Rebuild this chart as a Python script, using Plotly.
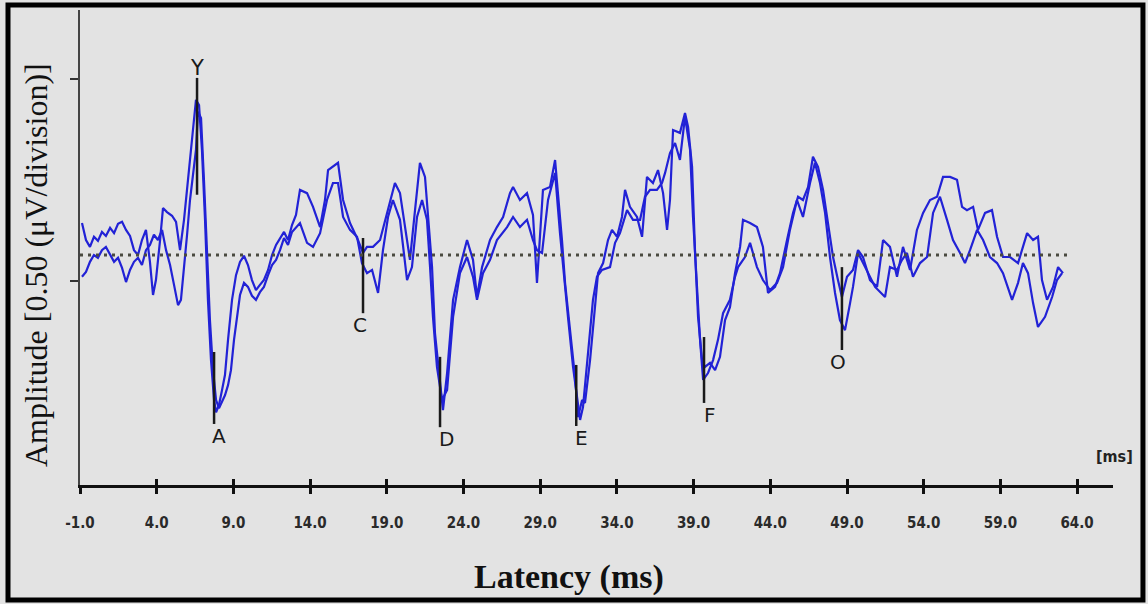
import plotly.graph_objects as go

# ---------------- data (latency in ms, amplitude in microvolts) ----------------
t1_ms = [-0.87, -0.61, -0.35, -0.09, 0.17, 0.43, 0.69, 0.96, 1.22, 1.48, 1.74, 2.00, 2.26, 2.52, 2.78,
         3.04, 3.30, 3.56, 3.76, 3.95, 4.22, 4.41, 4.67, 5.00, 5.26, 5.52, 5.78, 6.04, 6.30, 6.56,
         6.76, 6.95, 7.15, 7.34, 7.54, 7.74, 7.87, 8.06, 8.26, 8.45, 8.65, 8.91, 9.17, 9.43, 9.69,
         9.95, 10.21, 10.47, 10.73, 10.99, 11.26, 11.52, 11.78, 12.04, 12.30, 12.56, 12.82, 13.08,
         13.34, 13.80, 14.19, 14.65, 14.97, 15.17, 15.49, 15.82, 16.15, 16.60, 17.12, 17.45, 17.71,
         18.10, 18.56, 19.01, 19.53, 19.86, 20.32, 20.51, 20.84, 21.16, 21.49, 21.69, 21.95, 22.14,
         22.47, 22.66, 22.93, 23.32, 23.77, 24.23, 24.62, 24.88, 25.21, 25.73, 26.18, 26.58, 27.03,
         27.23, 27.68, 28.14, 28.53, 28.79,
         29.18, 29.64, 29.97, 30.16, 30.42, 30.62, 30.94, 31.27, 31.47, 31.73, 31.92, 32.25, 32.57,
         32.77, 33.10, 33.42, 33.68, 34.01, 34.33, 34.53, 34.85, 35.31, 35.64, 35.96, 36.35, 36.68,
         37.01, 37.27, 37.46, 37.66, 38.11, 38.44, 38.64, 38.90, 39.09, 39.29, 39.55, 39.74, 40.07,
         40.40, 40.72, 41.05, 41.37, 41.70, 42.03, 42.22, 42.68, 43.13, 43.52, 43.85, 44.31, 44.63,
         45.09, 45.48, 45.81, 46.13, 46.46, 46.78, 47.11, 47.44, 47.76, 48.09, 48.41, 48.67, 49.00,
         49.39, 49.72, 50.04, 50.50, 50.96, 51.35, 51.80, 52.26, 52.65, 53.11, 53.56, 53.96, 54.41,
         54.87, 55.26, 55.72, 56.17, 56.50, 56.82, 57.22, 57.54, 58.00, 58.45, 58.78, 59.17, 59.63,
         60.15, 60.74, 61.13, 61.45, 61.71, 62.04, 62.43, 62.76, 63.08]
t1_uv = [0.079, 0.037, 0.020, 0.045, 0.035, 0.057, 0.047, 0.067, 0.054, 0.077, 0.082, 0.062, 0.047, 0.012, 0.000,
         0.037, 0.062, -0.017, -0.099, -0.062, 0.037, 0.116, 0.106, 0.097, 0.082, 0.012, 0.087, 0.186, 0.285, 0.384,
         0.371, 0.260, 0.087, -0.111, -0.260, -0.359, -0.389, -0.371, -0.334, -0.297, -0.210, -0.111, -0.050, -0.017, -0.002,
         -0.025, -0.062, -0.087, -0.074, -0.062, -0.037, 0.000, 0.025, 0.042, 0.057, 0.037, 0.074, 0.099,
         0.161, 0.153, 0.119, 0.069, 0.136, 0.210, 0.218, 0.228, 0.136, 0.079, 0.037, 0.005, 0.020,
         0.020, 0.037, 0.104, 0.178, 0.153, 0.037, -0.012, 0.111, 0.228, 0.193, 0.094, -0.030, -0.193,
         -0.317, -0.384, -0.292, -0.111, -0.030, 0.037, -0.012, -0.104, -0.030, 0.037, 0.069, 0.094, 0.153,
         0.168, 0.136, 0.153, 0.099, -0.069,
         0.161, 0.168, 0.235, 0.153, 0.037, -0.069, -0.193, -0.302, -0.401, -0.359, -0.366, -0.260, -0.129,
         -0.045, -0.020, 0.037, 0.062, 0.045, 0.094, 0.161, 0.119, 0.094, 0.045, 0.193, 0.178, 0.210,
         0.153, 0.062, 0.136, 0.309, 0.302, 0.351, 0.317, 0.218, 0.012, -0.153, -0.260, -0.277, -0.267,
         -0.285, -0.252, -0.161, -0.129, -0.045, 0.020, 0.087, 0.079, 0.069, 0.020, -0.094, -0.079, -0.045,
         0.037, 0.104, 0.144, 0.136, 0.168, 0.243, 0.218, 0.161, 0.079, -0.005, -0.062, -0.104, -0.054,
         -0.037, 0.012, -0.005, -0.062, -0.079, 0.037, 0.020, -0.054, 0.020, -0.037, 0.062, 0.104, 0.136,
         0.144, 0.193, 0.193, 0.186, 0.119, 0.111, 0.119, 0.062, 0.104, 0.111, 0.045, -0.005, -0.005,
         -0.020, 0.054, 0.037, 0.045, -0.062, -0.111, -0.079, -0.030, -0.045]

t2_ms = [-0.87, -0.61, -0.35, -0.09, 0.17, 0.43, 0.69, 0.96, 1.22, 1.48, 1.74, 2.00, 2.26, 2.52, 2.78,
         3.04, 3.30, 3.56, 3.82, 4.08, 4.35, 4.61, 4.87, 5.13, 5.39, 5.58, 5.78, 5.98, 6.17, 6.37,
         6.56, 6.69, 6.89, 7.08, 7.28, 7.47, 7.67, 7.87, 8.06, 8.26, 8.45, 8.65, 8.84, 9.04, 9.23,
         9.43, 9.69, 9.95, 10.21, 10.47, 10.73, 10.99, 11.26, 11.52, 11.78, 12.04, 12.30, 12.56, 12.82, 13.08,
         13.34, 13.80, 14.19, 14.65, 15.10, 15.49, 15.82, 16.15, 16.60, 17.06, 17.38, 17.71, 18.04,
         18.43, 18.75, 19.08, 19.40, 19.86, 20.32, 20.64, 20.97, 21.30, 21.62, 21.82, 22.01, 22.27,
         22.60, 22.93, 23.32, 23.77, 24.23, 24.62, 24.88, 25.27, 25.73, 26.18, 26.84, 27.23, 27.68,
         28.14, 28.53, 28.79,
         29.12, 29.51, 29.97, 30.29, 30.49, 30.81, 31.14, 31.40, 31.60, 31.79, 32.12, 32.44, 32.70,
         33.03, 33.55, 33.88, 34.20, 34.66, 35.05, 35.51, 35.83, 36.16, 36.61, 36.94, 37.14, 37.46,
         37.79, 38.11, 38.44, 38.77, 38.96, 39.22, 39.42, 39.62, 39.94, 40.27, 40.59, 40.92, 41.37,
         41.70, 41.90, 42.35, 42.68, 43.13, 43.52, 43.98,
         44.44, 44.83, 45.28, 45.74, 46.13, 46.59, 46.91, 47.24, 47.57, 47.89, 48.22, 48.54, 48.87,
         49.20, 49.39, 49.72, 50.04, 50.37, 50.83, 51.48, 51.80, 52.26, 52.59, 52.91, 53.30, 53.76,
         54.22, 54.61, 55.06, 55.52, 55.91, 56.37, 56.69, 57.02, 57.48, 57.87, 58.32, 58.78, 59.17,
         59.76, 60.15, 60.47, 60.80, 61.13, 61.45, 61.91, 62.37, 62.69, 63.02]
t2_uv = [-0.054, -0.042, -0.017, 0.000, -0.007, 0.012, 0.020, 0.000, -0.017, -0.007, -0.032, -0.067, -0.037, -0.017, -0.007,
         -0.025, 0.012, 0.025, 0.050, 0.037, 0.062, 0.012, -0.025, -0.074, -0.124, -0.111, -0.037, 0.050, 0.136, 0.193,
         0.260, 0.354, 0.339, 0.186, 0.012, -0.161, -0.285, -0.359, -0.379, -0.364, -0.347, -0.322, -0.285, -0.210, -0.149,
         -0.099, -0.069, -0.079, -0.101, -0.111, -0.092, -0.079, -0.050, -0.025, -0.012, 0.012, 0.042, 0.025, 0.057, 0.067,
         0.079, 0.030, 0.020, 0.054, 0.136, 0.178, 0.178, 0.094, 0.062, 0.045, -0.020, -0.045, -0.037,
         -0.094, 0.012, 0.094, 0.136, 0.087, -0.062, -0.030, 0.094, 0.136, 0.087, -0.030, -0.153, -0.277,
         -0.359, -0.334, -0.153, -0.045, -0.005, -0.054, -0.111, -0.045, -0.012, 0.037, 0.069, 0.094, 0.069,
         0.087, 0.037, 0.012,
         0.005, 0.136, 0.203, 0.054, -0.030, -0.153, -0.277, -0.359, -0.408, -0.376, -0.243, -0.111, -0.054,
         -0.037, -0.030, 0.030, 0.054, 0.111, 0.087, 0.087, 0.144, 0.161, 0.161, 0.178, 0.203, 0.252,
         0.277, 0.235, 0.342, 0.260, 0.094, -0.094, -0.210, -0.309, -0.292, -0.260, -0.210, -0.144, -0.111,
         -0.054, -0.030, -0.005, 0.030, -0.030, -0.062, -0.087,
         -0.069, -0.030, 0.062, 0.136, 0.094, 0.178, 0.228, 0.178, 0.104, -0.005, -0.094, -0.161, -0.186,
         -0.119, -0.079, 0.005, -0.020, -0.045, -0.079, -0.104, -0.030, -0.037, -0.012, 0.005, -0.054, -0.020,
         -0.005, 0.104, 0.144, 0.087, 0.037, 0.005, -0.020, 0.012, 0.062, 0.037, -0.005, -0.020, -0.045,
         -0.111, -0.069, -0.020, -0.045, -0.119, -0.178, -0.153, -0.104, -0.062, -0.045]

# peak markers (latency, vertical extent of the cursor line)
marker_labels = ["Y", "A", "C", "D", "E", "F", "O"]
marker_ms = [6.63, 7.74, 17.45, 22.47, 31.35, 39.68, 48.67]
marker_top_uv = [0.438, -0.240, 0.042, -0.252, -0.272, -0.203, -0.030]
marker_bottom_uv = [0.149, -0.418, -0.144, -0.426, -0.423, -0.366, -0.235]

# axes
tick_ms = [-1, 4, 9, 14, 19, 24, 29, 34, 39, 44, 49, 54, 59, 64]
tick_labels = ["-1.0", "4.0", "9.0", "14.0", "19.0", "24.0", "29.0", "34.0",
               "39.0", "44.0", "49.0", "54.0", "59.0", "64.0"]
division_ticks_uv = [-0.064, 0.436]
baseline_ms = [-1.0, 63.5]
baseline_uv = [0.0, 0.0]
x_range = [-1.0, 66.34]
y_range = [-0.569, 0.606]

# ---------------- styles ----------------
BG = "#e3e3e3"
TRACE_COLOR = "#2222d6"
label_style = {
    "Y": dict(pos="above", xanchor="center", xshift=0),
    "A": dict(pos="below", xanchor="center", xshift=5),
    "C": dict(pos="below", xanchor="center", xshift=-3),
    "D": dict(pos="below", xanchor="left", xshift=-3),
    "E": dict(pos="below", xanchor="left", xshift=-3),
    "F": dict(pos="below", xanchor="left", xshift=-2),
    "O": dict(pos="below", xanchor="center", xshift=-4),
}

fig = go.Figure()

# baseline (dotted)
fig.add_trace(go.Scatter(x=baseline_ms, y=baseline_uv, mode="lines", xaxis="x2",
                         line=dict(color="#4a4a40", width=3, dash="3px,5px"),
                         hoverinfo="skip", showlegend=False))

# two recordings
for xs, ys in [(t1_ms, t1_uv), (t2_ms, t2_uv)]:
    fig.add_trace(go.Scatter(x=xs, y=ys, mode="lines",
                             line=dict(color=TRACE_COLOR, width=2.2),
                             showlegend=False))

# cursor lines
cx, cy = [], []
for m, top, bot in zip(marker_ms, marker_top_uv, marker_bottom_uv):
    cx += [m, m, None]
    cy += [top, bot, None]
fig.add_trace(go.Scatter(x=cx, y=cy, mode="lines",
                         line=dict(color="#1a1a1a", width=2.5),
                         hoverinfo="skip", showlegend=False))

annotations = []
for lab, m, top, bot in zip(marker_labels, marker_ms, marker_top_uv, marker_bottom_uv):
    st = label_style[lab]
    if st["pos"] == "above":
        annotations.append(dict(x=m, y=top, xref="x", yref="y", text=lab, showarrow=False,
                                xanchor=st["xanchor"], yanchor="bottom", xshift=st["xshift"], yshift=-4,
                                font=dict(family="DejaVu Sans", size=21, color="#1a1a1a")))
    else:
        annotations.append(dict(x=m, y=bot, xref="x", yref="y", text=lab, showarrow=False,
                                xanchor=st["xanchor"], yanchor="top", xshift=st["xshift"], yshift=2,
                                font=dict(family="DejaVu Sans", size=20, color="#1a1a1a")))

annotations += [
    dict(text="Latency (ms)", x=0.4734, y=-0.1937, xref="paper", yref="paper",
         showarrow=False, xanchor="center", yanchor="middle",
         font=dict(family="Liberation Serif", size=34, color="#111", weight="bold")),
    dict(text="Amplitude [0.50 (\u03bcV/division)]", x=-0.0426, y=0.463, xref="paper", yref="paper",
         showarrow=False, xanchor="center", yanchor="middle", textangle=-90,
         font=dict(family="Liberation Serif", size=32, color="#111")),
    dict(text="[ms]", x=1.001, y=0.059, xref="paper", yref="paper",
         showarrow=False, xanchor="center", yanchor="middle",
         font=dict(family="Liberation Sans Narrow, DejaVu Sans Condensed, sans-serif", size=16,
                   color="#222", weight="bold")),
]

fig.update_layout(
    width=1148, height=604,
    margin=dict(l=80, r=35, t=10, b=119),
    paper_bgcolor=BG, plot_bgcolor=BG,
    annotations=annotations,
    xaxis=dict(range=x_range, tickvals=tick_ms, ticktext=tick_labels,
               showgrid=False, zeroline=False, showline=True, linecolor="#111", linewidth=3,
               ticks="outside", ticklen=6, tickwidth=3, tickcolor="#111",
               ticklabelstandoff=16,
               tickfont=dict(family="Liberation Sans Narrow, DejaVu Sans Condensed, sans-serif",
                             size=15, color="#2a2a2a", weight="bold")),
    xaxis2=dict(overlaying="x", matches="x", range=x_range, tickvals=tick_ms,
                showticklabels=False, showgrid=False, zeroline=False, showline=False,
                ticks="inside", ticklen=6, tickwidth=3, tickcolor="#111", side="bottom"),
    yaxis=dict(range=y_range, tickvals=division_ticks_uv, showticklabels=False,
               showgrid=False, zeroline=False, showline=True, linecolor="#444", linewidth=2,
               ticks="outside", ticklen=8, tickwidth=2, tickcolor="#333"),
    shapes=[dict(type="rect", xref="paper", yref="paper",
                 x0=-0.0697, x1=1.029, y0=-0.2421, y1=1.0105,
                 line=dict(color="#000", width=5), fillcolor="rgba(0,0,0,0)", layer="above")],
)

fig.write_html("out.html")
